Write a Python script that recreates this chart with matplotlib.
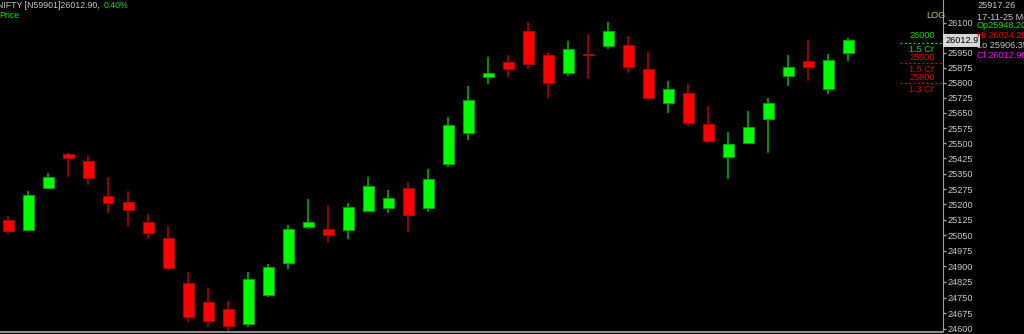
import matplotlib
matplotlib.use("Agg")
import matplotlib.pyplot as plt
import matplotlib.ticker as mticker
import numpy as np

plt.rcParams["font.family"] = ["Liberation Sans", "DejaVu Sans"]

# NIFTY daily candles
opens = [25124, 25076, 25280, 25447, 25413, 25241, 25212, 25114, 25037, 24820,
         24729, 24695, 24624, 24762, 24916, 25090, 25080, 25076, 25168, 25182,
         25280, 25182, 25398, 25551, 25829, 25904, 26060, 25939, 25849, 25944,
         25984, 25989, 25869, 25699, 25749, 25595, 25432, 25501, 25620, 25834,
         25909, 25769, 25948.20]
highs = [25144, 25266, 25354, 25452, 25437, 25334, 25266, 25153, 25095, 24873,
         24796, 24733, 24873, 24911, 25100, 25226, 25197, 25207, 25334, 25270,
         25310, 25373, 25630, 25784, 25929, 25939, 26105, 25949, 26009, 26045,
         26105, 26035, 25954, 25809, 25794, 25684, 25556, 25660, 25724, 25939,
         26014, 25944, 26024.20]
lows = [25056, 25071, 25275, 25334, 25295, 25158, 25090, 25032, 24882, 24634,
        24610, 24590, 24610, 24753, 24887, 25080, 25013, 25032, 25163, 25158,
        25066, 25163, 25383, 25516, 25794, 25829, 25869, 25724, 25834, 25819,
        25969, 25849, 25714, 25650, 25585, 25501, 25324, 25501, 25452, 25784,
        25809, 25744, 25906.35]
closes = [25071, 25246, 25334, 25427, 25329, 25207, 25173, 25061, 24892, 24657,
          24638, 24614, 24839, 24897, 25080, 25114, 25051, 25187, 25290, 25231,
          25148, 25324, 25590, 25714, 25849, 25869, 25894, 25799, 25969, 25939,
          26060, 25879, 25724, 25769, 25600, 25511, 25496, 25580, 25699, 25879,
          25879, 25914, 26012.90]

tick_vals = [26100, 25950, 25875, 25800, 25725, 25650, 25575, 25500, 25425,
             25350, 25275, 25200, 25125, 25050, 24975, 24900, 24825, 24750,
             24675, 24600]
vol_levels = [26000, 25900, 25800]
vol_colors = ["#00e000", "#e00000", "#e00000"]

W, H = 1024, 334
FS = 6.3
fig = plt.figure(figsize=(W / 100, H / 100), dpi=100, facecolor="black")
ax = fig.add_axes([0, 2 / H, 943 / W, 332 / H])
ax.set_facecolor("black")

o = np.array(opens)
c = np.array(closes)
x = np.arange(len(o))
up = c >= o

ax.vlines(x[up], np.array(lows)[up], np.array(highs)[up], color="#00a000", lw=1.3, zorder=2)
ax.vlines(x[~up], np.array(lows)[~up], np.array(highs)[~up], color="#a00000", lw=1.3, zorder=2)
body_lo = np.minimum(o, c)
body_h = np.maximum(np.abs(c - o), 1.5)
ax.bar(x[up], body_h[up], bottom=body_lo[up], width=0.55, color="#00ff00",
       edgecolor="#00a000", lw=0.8, zorder=3)
ax.bar(x[~up], body_h[~up], bottom=body_lo[~up], width=0.55, color="#ff0000",
       edgecolor="#b00000", lw=0.8, zorder=3)

# volume profile markers near the axis
for lvl, col in zip(vol_levels, vol_colors):
    ax.hlines(lvl, 44.6, 46.75, colors=col, lw=0.9, linestyles=(0, (1.5, 2)), zorder=1)

ax.set_yscale("log")
ax.set_ylim(24585.7, 26216)
ax.set_xlim(-0.4, 46.75)
ax.yaxis.set_major_locator(mticker.FixedLocator(tick_vals))
ax.yaxis.set_minor_locator(mticker.NullLocator())
ax.yaxis.set_major_formatter(mticker.FuncFormatter(lambda v, p: f"{v:.0f}"))
ax.yaxis.tick_right()
ax.tick_params(axis="y", colors="#a0a0a0", labelcolor="#cccccc", length=2.5,
               width=1, pad=1, labelsize=6.6)
ax.set_xticks([])
for s in ["left", "top"]:
    ax.spines[s].set_visible(False)
ax.spines["right"].set_color("#a0a0a0")
ax.spines["bottom"].set_color("#8c8c8c")
ax.spines["bottom"].set_linewidth(1.5)


def ftext(px, py, s, col, **kw):
    fig.text(px / W, 1 - py / H, s, color=col, fontsize=kw.pop("size", FS),
             va="center", ha="left", **kw)


# header
ftext(-3, 6, "NIFTY [N59901]26012.90,", "#c8c8c8")
ftext(104, 6, "0.40%", "#00e000")
ftext(-1, 16, "Price", "#00e000")

# scale / volume labels left of the axis
ftext(926, 16, "LOG", "#d0d000", size=6.6)
ftext(909, 36, "26000", "#00e000", size=6.6)
ftext(909, 50, "1.5 Cr", "#00e000", size=6.6)
ftext(909, 57, "25900", "#e00000", size=6.6)
ftext(909, 69, "1.5 Cr", "#e00000", size=6.6)
ftext(909, 77, "25800", "#e00000", size=6.6)
ftext(909, 89, "1.3 Cr", "#e00000", size=6.6)

# current price box
ftext(945, 40.5, "26012.9", "black", size=6.6,
      bbox=dict(boxstyle="square,pad=0.2", fc="#d8d8d8", ec="none"))

# info panel
ftext(977, 6, "25917.26", "#c8c8c8", size=6.6)
ftext(977, 17, "17-11-25 Mo", "#c8c8c8", size=6.6)
ftext(977, 26, "Op25948.20", "#00e000", size=6.6)
ftext(977, 36, "Hi 26024.20", "#e00000", size=6.6)
ftext(977, 46, "Lo 25906.35", "#c8c8c8", size=6.6)
ftext(977, 56, "Cl 26012.90", "#ff00ff", size=6.6)

fig.savefig("out.png", dpi=100, facecolor="black")
